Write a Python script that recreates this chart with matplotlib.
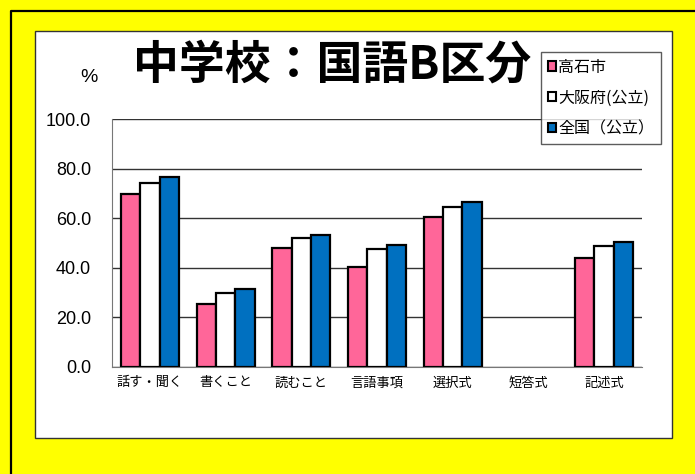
import numpy as np
import matplotlib.pyplot as plt
from matplotlib.patches import Rectangle
from matplotlib.lines import Line2D

#%%
# data

categories = ["話す・聞く", "書くこと", "読むこと", "言語事項", "選択式", "短答式", "記述式"]
takaishi = [69.7, 25.5, 47.8, 40.3, 60.6, np.nan, 44.0]
osaka = [74.1, 29.9, 52.1, 47.5, 64.5, np.nan, 48.7]
zenkoku = [76.5, 31.3, 53.3, 49.0, 66.7, np.nan, 50.4]
series_names = ["高石市", "大阪府(公立)", "全国（公立）"]
yticks = [0, 20, 40, 60, 80, 100]

#%%
# figure setup

plt.rcParams['font.family'] = ['Liberation Sans', 'Noto Sans CJK JP', 'DejaVu Sans']

W, H = 695, 474
fig = plt.figure(figsize=(W / 100, H / 100), dpi=100, facecolor='#FFFF00')

def px(x0, y0, x1, y1):
    # pixel box -> figure fraction (left, bottom, width, height)
    return x0 / W, 1 - y1 / H, (x1 - x0) / W, (y1 - y0) / H

# black frame on the left and top of the yellow area
fig.lines.append(Line2D([10.7 / W, 10.7 / W, 1], [0, 1 - 10.7 / H, 1 - 10.7 / H],
                        transform=fig.transFigure, color='black', lw=1.6, zorder=-2))

# white chart area
l, b, w, h = px(35, 31, 671.5, 438)
fig.patches.append(Rectangle((l, b), w, h, transform=fig.transFigure,
                             facecolor='white', edgecolor='#333333', lw=1.0, zorder=-1))

ax = fig.add_axes(px(112, 119.2, 642, 366.7))
ax.set_facecolor('none')

#%%
# bars

colors = ['#FF6699', '#FFFFFF', '#0070C0']
x = np.arange(len(categories))
bw = 0.255
for i, (vals, c, name) in enumerate(zip([takaishi, osaka, zenkoku], colors, series_names)):
    ax.bar(x + (i - 1) * bw, vals, bw, color=c, edgecolor='black', lw=1.6,
           label=name, zorder=3)

ax.set_xlim(-0.5, len(categories) - 0.5)
ax.set_ylim(0, 100)
ax.set_yticks(yticks)
ax.set_yticklabels([f"{v:.1f}" for v in yticks], fontsize=13)
ax.set_xticks(x)
ax.set_xticklabels(categories, fontsize=9.5, family=['Noto Sans CJK JP'])
ax.tick_params(axis='y', length=0, pad=15)
ax.tick_params(axis='x', length=0, pad=7)

ax.grid(axis='y', color='#333333', lw=1.0, zorder=0)
for s in ['top', 'right']:
    ax.spines[s].set_visible(False)
ax.spines['left'].set_color('#777777')
ax.spines['bottom'].set_color('#777777')

#%%
# title, unit and legend

fig.text(332 / W, 1 - 66 / H, "中学校：国語B区分", fontsize=33, fontweight='bold',
         family=['Noto Sans CJK JP'], ha='center', va='center')
fig.text(89 / W, 1 - 77 / H, "%", fontsize=14, ha='center', va='center')

leg = ax.legend(loc='upper left', bbox_to_anchor=(541 / W, 1 - 52 / H),
                bbox_transform=fig.transFigure, frameon=True, fancybox=False,
                prop={'family': 'Noto Sans CJK JP', 'size': 11.5},
                handlelength=0.5, handleheight=0.5, handletextpad=0.15,
                labelspacing=0.87, borderpad=0.42, borderaxespad=0)
leg.get_frame().set_edgecolor('#333333')
leg.get_frame().set_linewidth(1.0)
for hdl in leg.legend_handles:
    hdl.set_linewidth(1.5)

fig.savefig("out.png", dpi=100, facecolor=fig.get_facecolor())
